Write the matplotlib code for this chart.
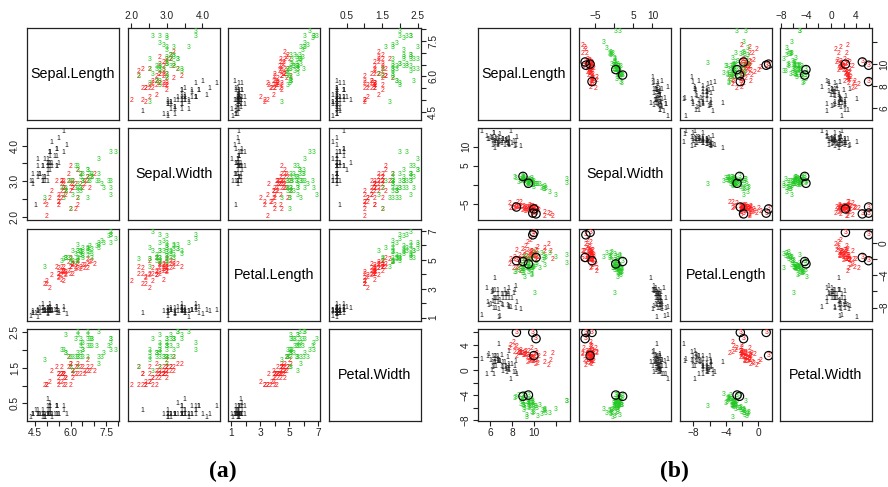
import numpy as np
import matplotlib.pyplot as plt

plt.rcParams['font.family'] = ['Liberation Sans', 'DejaVu Sans']

# ---- iris data, used for panel (a) ----
sepal_length = [5.1, 4.9, 4.7, 4.6, 5.0, 5.4, 4.6, 5.0, 4.4, 4.9, 5.4, 4.8, 4.8, 4.3, 5.8, 5.7, 5.4, 5.1, 5.7, 5.1,
                5.4, 5.1, 4.6, 5.1, 4.8, 5.0, 5.0, 5.2, 5.2, 4.7, 4.8, 5.4, 5.2, 5.5, 4.9, 5.0, 5.5, 4.9, 4.4, 5.1,
                5.0, 4.5, 4.4, 5.0, 5.1, 4.8, 5.1, 4.6, 5.3, 5.0,
                7.0, 6.4, 6.9, 5.5, 6.5, 5.7, 6.3, 4.9, 6.6, 5.2, 5.0, 5.9, 6.0, 6.1, 5.6, 6.7, 5.6, 5.8, 6.2, 5.6,
                5.9, 6.1, 6.3, 6.1, 6.4, 6.6, 6.8, 6.7, 6.0, 5.7, 5.5, 5.5, 5.8, 6.0, 5.4, 6.0, 6.7, 6.3, 5.6, 5.5,
                5.5, 6.1, 5.8, 5.0, 5.6, 5.7, 5.7, 6.2, 5.1, 5.7,
                6.3, 5.8, 7.1, 6.3, 6.5, 7.6, 4.9, 7.3, 6.7, 7.2, 6.5, 6.4, 6.8, 5.7, 5.8, 6.4, 6.5, 7.7, 7.7, 6.0,
                6.9, 5.6, 7.7, 6.3, 6.7, 7.2, 6.2, 6.1, 6.4, 7.2, 7.4, 7.9, 6.4, 6.3, 6.1, 7.7, 6.3, 6.4, 6.0, 6.9,
                6.7, 6.9, 5.8, 6.8, 6.7, 6.7, 6.3, 6.5, 6.2, 5.9]
sepal_width = [3.5, 3.0, 3.2, 3.1, 3.6, 3.9, 3.4, 3.4, 2.9, 3.1, 3.7, 3.4, 3.0, 3.0, 4.0, 4.4, 3.9, 3.5, 3.8, 3.8,
               3.4, 3.7, 3.6, 3.3, 3.4, 3.0, 3.4, 3.5, 3.4, 3.2, 3.1, 3.4, 4.1, 4.2, 3.1, 3.2, 3.5, 3.6, 3.0, 3.4,
               3.5, 2.3, 3.2, 3.5, 3.8, 3.0, 3.8, 3.2, 3.7, 3.3,
               3.2, 3.2, 3.1, 2.3, 2.8, 2.8, 3.3, 2.4, 2.9, 2.7, 2.0, 3.0, 2.2, 2.9, 2.9, 3.1, 3.0, 2.7, 2.2, 2.5,
               3.2, 2.8, 2.5, 2.8, 2.9, 3.0, 2.8, 3.0, 2.9, 2.6, 2.4, 2.4, 2.7, 2.7, 3.0, 3.4, 3.1, 2.3, 3.0, 2.5,
               2.6, 3.0, 2.6, 2.3, 2.7, 3.0, 2.9, 2.9, 2.5, 2.8,
               3.3, 2.7, 3.0, 2.9, 3.0, 3.0, 2.5, 2.9, 2.5, 3.6, 3.2, 2.7, 3.0, 2.5, 2.8, 3.2, 3.0, 3.8, 2.6, 2.2,
               3.2, 2.8, 2.8, 2.7, 3.3, 3.2, 2.8, 3.0, 2.8, 3.0, 2.8, 3.8, 2.8, 2.8, 2.6, 3.0, 3.4, 3.1, 3.0, 3.1,
               3.1, 3.1, 2.7, 3.2, 3.3, 3.0, 2.5, 3.0, 3.4, 3.0]
petal_length = [1.4, 1.4, 1.3, 1.5, 1.4, 1.7, 1.4, 1.5, 1.4, 1.5, 1.5, 1.6, 1.4, 1.1, 1.2, 1.5, 1.3, 1.4, 1.7, 1.5,
                1.7, 1.5, 1.0, 1.7, 1.9, 1.6, 1.6, 1.5, 1.4, 1.6, 1.6, 1.5, 1.5, 1.4, 1.5, 1.2, 1.3, 1.4, 1.3, 1.5,
                1.3, 1.3, 1.3, 1.6, 1.9, 1.4, 1.6, 1.4, 1.5, 1.4,
                4.7, 4.5, 4.9, 4.0, 4.6, 4.5, 4.7, 3.3, 4.6, 3.9, 3.5, 4.2, 4.0, 4.7, 3.6, 4.4, 4.5, 4.1, 4.5, 3.9,
                4.8, 4.0, 4.9, 4.7, 4.3, 4.4, 4.8, 5.0, 4.5, 3.5, 3.8, 3.7, 3.9, 5.1, 4.5, 4.5, 4.7, 4.4, 4.1, 4.0,
                4.4, 4.6, 4.0, 3.3, 4.2, 4.2, 4.2, 4.3, 3.0, 4.1,
                6.0, 5.1, 5.9, 5.6, 5.8, 6.6, 4.5, 6.3, 5.8, 6.1, 5.1, 5.3, 5.5, 5.0, 5.1, 5.3, 5.5, 6.7, 6.9, 5.0,
                5.7, 4.9, 6.7, 4.9, 5.7, 6.0, 4.8, 4.9, 5.6, 5.8, 6.1, 6.4, 5.6, 5.1, 5.6, 6.1, 5.6, 5.5, 4.8, 5.4,
                5.6, 5.1, 5.1, 5.9, 5.7, 5.2, 5.0, 5.2, 5.4, 5.1]
petal_width = [0.2, 0.2, 0.2, 0.2, 0.2, 0.4, 0.3, 0.2, 0.2, 0.1, 0.2, 0.2, 0.1, 0.1, 0.2, 0.4, 0.4, 0.3, 0.3, 0.3,
               0.2, 0.4, 0.2, 0.5, 0.2, 0.2, 0.4, 0.2, 0.2, 0.2, 0.2, 0.4, 0.1, 0.2, 0.2, 0.2, 0.2, 0.1, 0.2, 0.2,
               0.3, 0.3, 0.2, 0.6, 0.4, 0.3, 0.2, 0.2, 0.2, 0.2,
               1.4, 1.5, 1.5, 1.3, 1.5, 1.3, 1.6, 1.0, 1.3, 1.4, 1.0, 1.5, 1.0, 1.4, 1.3, 1.4, 1.5, 1.0, 1.5, 1.1,
               1.8, 1.3, 1.5, 1.2, 1.3, 1.4, 1.4, 1.7, 1.5, 1.0, 1.1, 1.0, 1.2, 1.6, 1.5, 1.6, 1.5, 1.3, 1.3, 1.3,
               1.2, 1.4, 1.2, 1.0, 1.3, 1.2, 1.3, 1.3, 1.1, 1.3,
               2.5, 1.9, 2.1, 1.8, 2.2, 2.1, 1.7, 1.8, 1.8, 2.5, 2.0, 1.9, 2.1, 2.0, 2.4, 2.3, 1.8, 2.2, 2.3, 1.5,
               2.3, 2.0, 2.0, 1.8, 2.1, 1.8, 1.8, 1.8, 2.1, 1.6, 1.9, 2.0, 2.2, 1.5, 1.4, 2.3, 2.4, 1.8, 1.8, 2.1,
               2.4, 2.3, 1.9, 2.3, 2.5, 2.3, 1.9, 2.0, 2.3, 1.8]
species = [1] * 50 + [2] * 50 + [3] * 50

var_names = ["Sepal.Length", "Sepal.Width", "Petal.Length", "Petal.Width"]

# ---- panel (b): cluster centres / spreads ----
b_centre = [[7.0, 11.5, -7.0, 1.0],
            [9.5, -6.3, -1.6, 2.3],
            [9.7, 0.5, -2.8, -5.7]]
b_spread = [[0.8, 1.0, 1.0, 1.1],
            [0.9, 0.8, 0.8, 0.8],
            [0.8, 1.0, 0.8, 0.85]]
# extra points of (b): values, printed label, colour class, circled?
b_extra = [[8.4, -5.8, -2.2, 6.0],
           [10.2, -7.6, -1.8, 5.0],
           [9.9, -7.4, 1.0, 6.0],
           [10.0, -6.3, 1.3, 2.3],
           [9.0, 2.2, -2.3, -4.2],
           [9.5, 0.4, -2.6, -4.0],
           [13.0, 0.3, -2.6, -5.0],
           [13.0, 1.3, -1.6, -5.0],
           [10.1, 0.1, -6.3, -5.9],
           [9.3, -0.5, -3.2, -7.6]]
b_extra_label = [3, 3, 3, 3, 3, 3, 3, 3, 3, 3]
b_extra_colour = [2, 2, 2, 2, 3, 3, 3, 3, 3, 3]
b_extra_circled = [1, 1, 1, 1, 1, 1, 0, 0, 0, 0]

# tick marks / tick labels
a_ticks = [[4.5, 5.0, 5.5, 6.0, 6.5, 7.0, 7.5, 8.0],
           [2.0, 2.5, 3.0, 3.5, 4.0],
           [1, 2, 3, 4, 5, 6, 7],
           [0.5, 1.0, 1.5, 2.0, 2.5]]
a_ticklabels = [["4.5", "", "", "6.0", "", "", "7.5", ""],
                ["2.0", "", "3.0", "", "4.0"],
                ["1", "", "3", "", "5", "", "7"],
                ["0.5", "", "1.5", "", "2.5"]]
b_ticks = [[6, 8, 10, 12],
           [-5, 0, 5, 10, 15],
           [-8, -6, -4, -2, 0, 2],
           [-8, -6, -4, -2, 0, 2, 4, 6]]
b_ticklabels = [["6", "8", "10", ""],
                ["\u22125", "", "5", "10", ""],
                ["\u22128", "", "\u22124", "", "0", ""],
                ["\u22128", "", "\u22124", "", "0", "", "4", ""]]

colours = {1: '#1a1a1a', 2: '#ff1a1a', 3: '#22c822'}

W, H = 888, 487
fig = plt.figure(figsize=(W / 100, H / 100), dpi=100)

iris = np.column_stack([sepal_length, sepal_width, petal_length, petal_width])
cls = np.array(species)

# build (b)
b_vals = np.zeros_like(iris)
for c in (1, 2, 3):
    m = cls == c
    z = (iris[m] - iris[m].mean(0)) / iris[m].std(0)
    d = z - np.roll(z, -1, axis=1)
    d = (d - d.mean(0)) / d.std(0)
    b_vals[m] = np.array(b_centre[c - 1]) + np.array(b_spread[c - 1]) * d
b_vals = np.vstack([b_vals, np.array(b_extra)])
b_lab = np.concatenate([cls, b_extra_label])
b_col = np.concatenate([cls, b_extra_colour])
b_circ = np.concatenate([np.zeros(150, int), b_extra_circled]).astype(bool)


def pairs(x_starts, y_starts, vals, lab, col, circ, ticks, ticklabels):
    lims = []
    for j in range(4):
        lo, hi = vals[:, j].min(), vals[:, j].max()
        pad = 0.04 * (hi - lo)
        lims.append((lo - pad, hi + pad))
    size = 92
    for r in range(4):
        for c in range(4):
            ax = fig.add_axes([x_starts[c] / W, 1 - (y_starts[r] + size) / H, size / W, size / H])
            for s in ax.spines.values():
                s.set_linewidth(0.9)
                s.set_color('#222222')
            ax.set_xlim(lims[c])
            ax.set_ylim(lims[r])
            ax.set_xticks([])
            ax.set_yticks([])
            if r == c:
                ax.text(0.5, 0.5, var_names[r], transform=ax.transAxes, ha='center', va='center',
                        fontsize=10.3)
            else:
                for i in range(len(lab)):
                    ax.text(vals[i, c], vals[i, r], str(lab[i]), color=colours[col[i]], fontsize=4.9,
                            ha='center', va='center', clip_on=True)
                if circ.any():
                    ax.scatter(vals[circ, c], vals[circ, r], s=36, facecolors='none', edgecolors='black',
                               linewidths=0.85, zorder=5, clip_on=True)
            # outer axes, alternating like R's pairs()
            if r == 0 and c % 2 == 1:
                ax.xaxis.tick_top()
                ax.set_xticks(ticks[c], ticklabels[c])
            if r == 3 and c % 2 == 0:
                ax.set_xticks(ticks[c], ticklabels[c])
            if c == 3 and r % 2 == 0:
                ax.yaxis.tick_right()
                ax.set_yticks(ticks[r], ticklabels[r])
            if c == 0 and r % 2 == 1:
                ax.set_yticks(ticks[r], ticklabels[r])
            ax.tick_params(axis='both', length=3.6, width=0.8, pad=1.5, labelsize=7.3, colors='#222222')
            ax.tick_params(axis='y', labelrotation=90)
            for t in ax.get_yticklabels():
                t.set_va('center')
            ax.set_xlim(lims[c])
            ax.set_ylim(lims[r])


a_x = [27, 128, 228, 329]
b_x = [478, 579, 680, 780]
rows_y = [28, 128, 229, 329]

pairs(a_x, rows_y, iris, cls, cls, np.zeros(150, bool), a_ticks, a_ticklabels)
pairs(b_x, rows_y, b_vals, b_lab, b_col, b_circ, b_ticks, b_ticklabels)

fig.text(223 / W, 1 - 471 / H, "(a)", ha='center', va='center', fontsize=17, fontweight='bold',
         family='Liberation Serif')
fig.text(674 / W, 1 - 471 / H, "(b)", ha='center', va='center', fontsize=17, fontweight='bold',
         family='Liberation Serif')

fig.savefig("out.png", dpi=100)
